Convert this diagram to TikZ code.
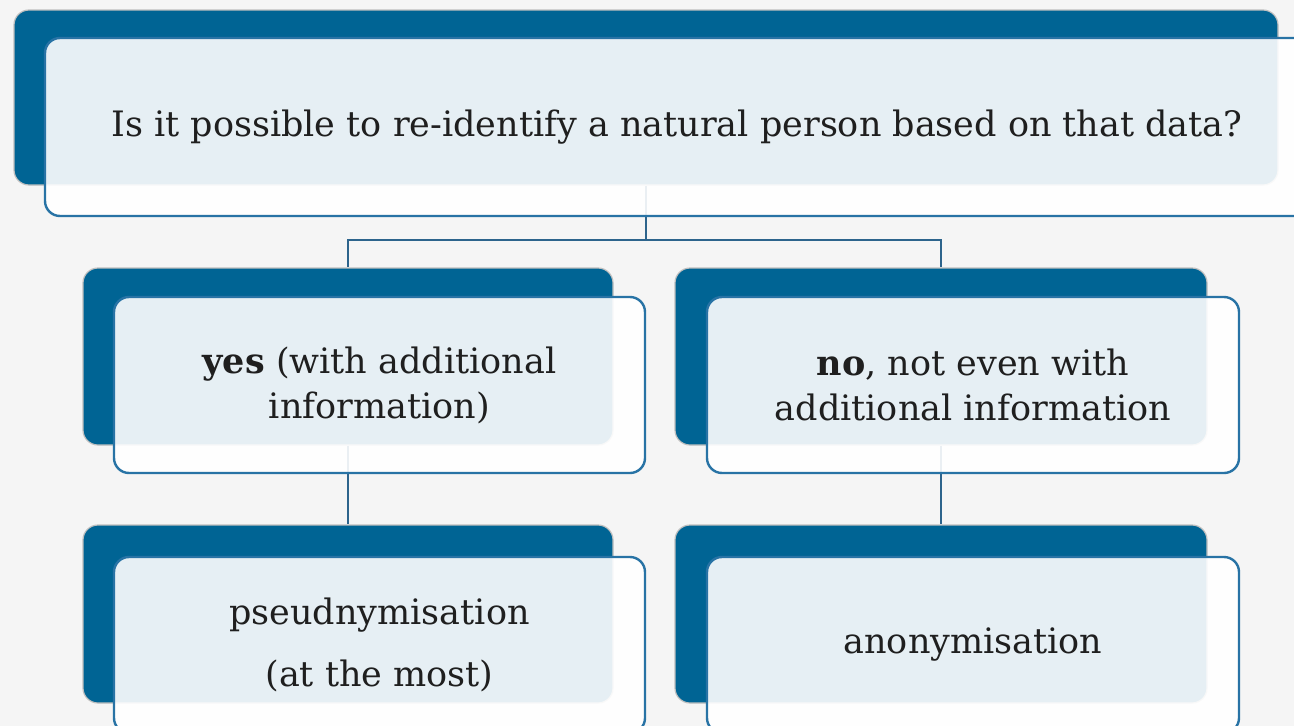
\documentclass[tikz,border=0pt]{standalone}
\usepackage{fontspec}
\setmainfont{DejaVu Serif}
\begin{document}
\begin{tikzpicture}[x=1pt,y=-1pt,
  darkbox/.style={draw=black!25,line width=1.2pt,fill=deepblue,rounded corners=15pt,inner sep=0pt},
  frontbox/.style={draw=edgeblue,line width=2.4pt,fill=white,fill opacity=0.9,text opacity=1,
    rounded corners=15pt,inner sep=0pt,align=center,text=black!88,font=\fontsize{35}{45}\selectfont},
  link/.style={draw=linkblue,line width=2pt}]
\definecolor{deepblue}{RGB}{0,100,148}
\definecolor{edgeblue}{RGB}{40,115,165}
\definecolor{linkblue}{RGB}{45,100,140}
\definecolor{canvas}{RGB}{245,245,245}
\useasboundingbox (0,0) rectangle (1294,726);
\clip (0,0) rectangle (1294,726);
\fill[canvas] (0,0) rectangle (1294,726);

% back panels
\node[darkbox,minimum width=1264pt,minimum height=175pt] (qd) at (646,97.5) {};
\node[darkbox,minimum width=530pt,minimum height=177pt] (yd) at (348,356.5) {};
\node[darkbox,minimum width=532pt,minimum height=177pt] (nd) at (941,356.5) {};
\node[darkbox,minimum width=530pt,minimum height=178pt] (pd) at (348,614) {};
\node[darkbox,minimum width=532pt,minimum height=178pt] (ad) at (941,614) {};

% connectors
\coordinate (split) at (0,240);
\draw[link] (qd.south) -- (qd.south |- split) -| (yd.north);
\draw[link] (qd.south |- split) -| (nd.north);
\draw[link] (yd.south) -- (pd.north);
\draw[link] (nd.south) -- (ad.north);

% front panels with text
\node[frontbox,minimum width=1264pt,minimum height=178pt] (q) at (677,127)
  {Is it possible to re-identify a natural person based on that data?};
\node[frontbox,minimum width=531pt,minimum height=176pt] (y) at (379.5,385)
  {\textbf{yes} (with additional\\information)};
\node[frontbox,minimum width=532pt,minimum height=176pt] (n) at (973,385)
  {\textbf{no}, not even with\\additional information};
\node[frontbox,minimum width=531pt,minimum height=176pt] (p) at (379.5,645)
  {pseudnymisation\\[17pt](at the most)};
\node[frontbox,minimum width=532pt,minimum height=176pt] (a) at (973,645)
  {anonymisation};
\end{tikzpicture}
\end{document}
